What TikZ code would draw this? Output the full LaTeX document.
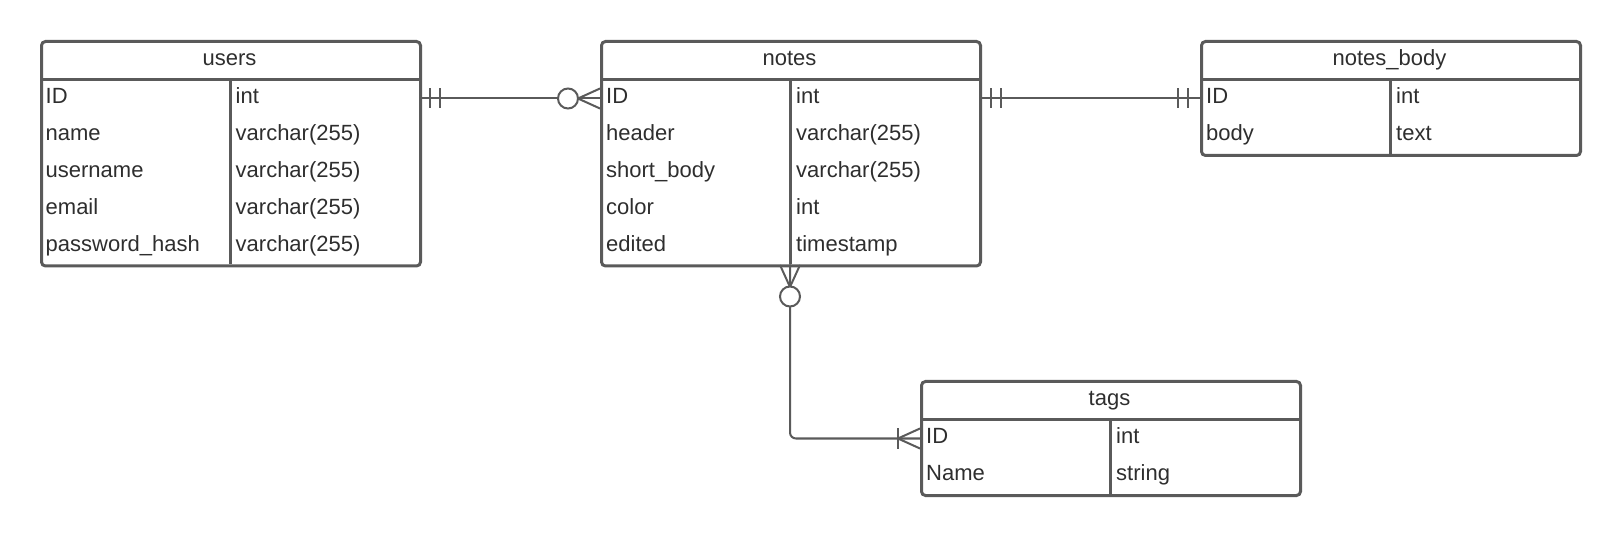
\documentclass[tikz,border=0pt]{standalone}
\usepackage{fontspec}
\setmainfont{Liberation Sans}
\definecolor{ln}{HTML}{5A5A5A}
\definecolor{tx}{HTML}{2E2E2E}
\begin{document}
\begin{tikzpicture}[x=1pt,y=-1pt,
  tbl/.style={draw=ln, line width=3pt, rounded corners=4pt, minimum width=379pt, inner sep=0pt, anchor=north west},
  sep/.style={draw=ln, line width=3pt},
  cell/.style={text=tx, inner sep=0pt, anchor=base west, font=\fontsize{22}{26}\selectfont},
  title/.style={text=tx, inner sep=0pt, anchor=base, font=\fontsize{22}{26}\selectfont},
  conn/.style={draw=ln, line width=2pt},
  ring/.style={draw=ln, line width=2pt, fill=white, circle, minimum size=20pt, inner sep=0pt}
]
\useasboundingbox (0,0) rectangle (1620,534);

% ---------- users ----------
\node[tbl, minimum height=224.5pt] (users) at (40,40) {};
\draw[sep] (users.west |- 0,80) -- (users.east |- 0,80);
\draw[sep] (230,80) -- (230,264.5);
\node[title] (usersT) at (229.5,65.5) {users};
\node[cell] (u1a) at (45.5,103.5) {ID};
\node[cell] (u1b) at (235.5,103.5) {int};
\node[cell] (u2a) at (45.5,140.5) {name};
\node[cell] (u2b) at (235.5,140.5) {varchar(255)};
\node[cell] (u3a) at (45.5,177.5) {username};
\node[cell] (u3b) at (235.5,177.5) {varchar(255)};
\node[cell] (u4a) at (45.5,214.5) {email};
\node[cell] (u4b) at (235.5,214.5) {varchar(255)};
\node[cell] (u5a) at (45.5,251.5) {password\_hash};
\node[cell] (u5b) at (235.5,251.5) {varchar(255)};

% ---------- notes ----------
\node[tbl, minimum height=224.5pt] (notes) at (600,40) {};
\draw[sep] (notes.west |- 0,80) -- (notes.east |- 0,80);
\draw[sep] (790,80) -- (790,264.5);
\node[title] (notesT) at (789.5,65.5) {notes};
\node[cell] (n1a) at (606,103.5) {ID};
\node[cell] (n1b) at (796,103.5) {int};
\node[cell] (n2a) at (606,140.5) {header};
\node[cell] (n2b) at (796,140.5) {varchar(255)};
\node[cell] (n3a) at (606,177.5) {short\_body};
\node[cell] (n3b) at (796,177.5) {varchar(255)};
\node[cell] (n4a) at (606,214.5) {color};
\node[cell] (n4b) at (796,214.5) {int};
\node[cell] (n5a) at (606,251.5) {edited};
\node[cell] (n5b) at (796,251.5) {timestamp};

% ---------- notes_body ----------
\node[tbl, minimum height=114pt] (body) at (1200,40) {};
\draw[sep] (body.west |- 0,80) -- (body.east |- 0,80);
\draw[sep] (1390,80) -- (1390,154);
\node[title] (bodyT) at (1389.5,65.5) {notes\_body};
\node[cell] (b1a) at (1206,103.5) {ID};
\node[cell] (b1b) at (1396,103.5) {int};
\node[cell] (b2a) at (1206,140.5) {body};
\node[cell] (b2b) at (1396,140.5) {text};

% ---------- tags ----------
\node[tbl, minimum height=114pt] (tags) at (920,380) {};
\draw[sep] (tags.west |- 0,420) -- (tags.east |- 0,420);
\draw[sep] (1110,420) -- (1110,494);
\node[title] (tagsT) at (1109.5,405.5) {tags};
\node[cell] (t1a) at (926,443.5) {ID};
\node[cell] (t1b) at (1116,443.5) {int};
\node[cell] (t2a) at (926,480.5) {Name};
\node[cell] (t2b) at (1116,480.5) {string};

% ---------- users -- notes ----------
\draw[conn] (users.east |- 0,98.5) -- (notes.west |- 0,98.5);
\draw[conn] (430,88.5) -- (430,108.5);
\draw[conn] (440,88.5) -- (440,108.5);
\node[ring] (r1) at (568,98.5) {};
\draw[conn] (578,98.5) -- (notes.west |- 0,88.5);
\draw[conn] (578,98.5) -- (notes.west |- 0,108.5);

% ---------- notes -- notes_body ----------
\draw[conn] (notes.east |- 0,98.5) -- (body.west |- 0,98.5);
\draw[conn] (991,88.5) -- (991,108.5);
\draw[conn] (1001,88.5) -- (1001,108.5);
\draw[conn] (1178,88.5) -- (1178,108.5);
\draw[conn] (1188,88.5) -- (1188,108.5);

% ---------- notes -- tags ----------
\draw[conn, rounded corners=6pt] (790,264.5) -- (790,438.5) -- (tags.west |- 0,438.5);
\draw[conn] (780,265) -- (790,287) -- (800,265);
\node[ring] (r2) at (790,296.5) {};
\draw[conn] (898,428.5) -- (898,448.5);
\draw[conn] (898,438.5) -- (tags.west |- 0,428.5);
\draw[conn] (898,438.5) -- (tags.west |- 0,448.5);
\end{tikzpicture}
\end{document}
